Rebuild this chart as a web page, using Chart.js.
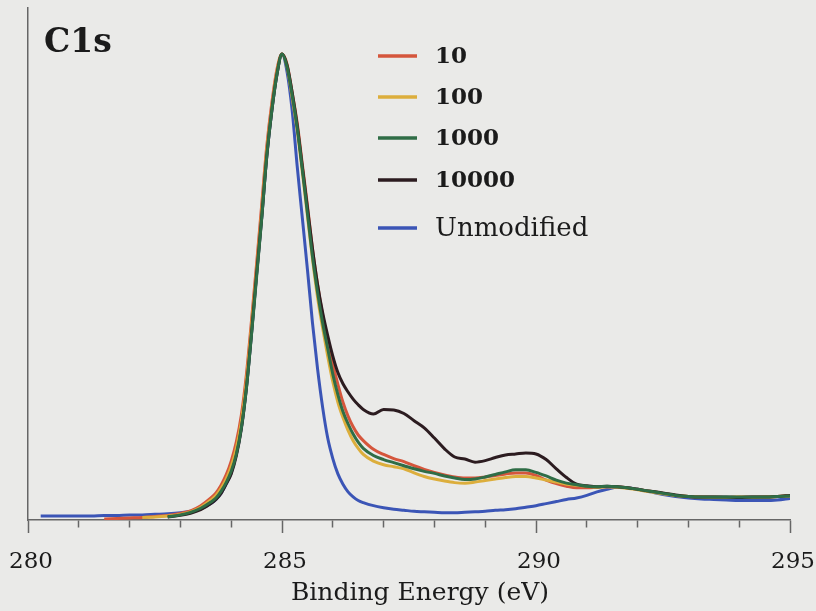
<!DOCTYPE html>
<html>
<head>
<meta charset="utf-8">
<script src="https://cdn.jsdelivr.net/npm/chart.js@4.4.1/dist/chart.umd.min.js"></script>
<style>
html,body{margin:0;padding:0;background:#eaeae8;}
canvas{display:block;}
</style>
</head>
<body>
<canvas id="c" width="816" height="611"></canvas>
<script>
// ---- data ----
const energy = [
  280.25,280.5,280.75,281,281.25,281.5,281.75,282,282.25,282.5,282.75,283,
  283.2,283.4,283.6,
  283.7,283.8,283.9,284.0,284.1,284.2,284.3,284.4,284.5,284.6,
  284.7,284.8,284.9,285.0,285.1,285.2,285.3,285.4,285.5,285.6,
  285.7,285.8,285.9,286.0,286.1,286.2,286.3,286.4,286.5,286.6,
  286.8,287.0,287.2,287.4,287.6,287.8,288.0,288.2,288.4,288.6,
  288.8,289.0,289.2,289.4,289.6,289.8,290.0,290.2,290.4,290.6,
  290.8,291.0,291.2,291.4,291.6,291.8,292.0,
  292.25,292.5,292.75,293.0,293.25,293.5,293.75,294.0,294.25,294.5,294.75,295.0
];
const seriesLabels = ['10','100','1000','10000','Unmodified'];
const int10 = [
  null,null,null,null,null,0.2,0.3,0.4,0.5,0.7,0.9,1.3,
  1.8,2.8,4.3,
  5.3,6.8,8.8,11.5,15.2,20.5,28.5,39,50,61.5,
  73,81.5,88,91,89,83.5,77.5,69.5,61.5,53,
  46,40,35,30.5,26.5,23,20.3,18.2,16.6,15.5,
  13.8,12.8,12.0,11.4,10.6,9.9,9.3,8.8,8.4,8.2,
  8.2,8.4,8.7,9.0,9.2,9.2,8.7,7.8,7.1,6.6,
  6.3,6.3,6.4,6.5,6.5,6.3,6.0,
  5.6,5.2,4.8,4.6,4.5,4.5,4.4,4.5,4.5,4.5,4.6,4.8
];
const int100 = [
  null,null,null,null,null,null,null,null,0.5,0.6,0.8,1.1,
  1.6,2.5,3.9,
  4.8,6.2,8.0,10.5,14.0,19.2,27.2,37.8,48.8,60,
  72,80.5,87.5,91,88.5,82.5,76,68,59.5,51,
  43.5,37.5,32,27,23,20,17.5,15.5,14.0,12.8,
  11.5,10.8,10.4,10.0,9.2,8.5,8.0,7.6,7.3,7.2,
  7.4,7.7,8.0,8.3,8.5,8.5,8.2,7.8,7.4,7.0,
  6.8,6.6,6.4,6.5,6.4,6.2,5.9,
  5.5,5.1,4.8,4.6,4.5,4.4,4.4,4.5,4.4,4.5,4.6,4.7
];
const int1000 = [
  null,null,null,null,null,null,null,null,null,null,0.6,1.0,
  1.5,2.3,3.5,
  4.3,5.6,7.3,9.5,12.8,18.0,25.8,36.2,47.5,58.8,
  71,80,87,91,88.5,83,76.5,68.5,60,51.5,
  44.5,38.5,33.5,28.5,24.5,21.2,18.8,16.8,15.2,14.0,
  12.6,11.8,11.2,10.6,10.0,9.5,9.1,8.6,8.2,7.9,
  8.0,8.4,8.9,9.4,9.8,9.8,9.3,8.6,7.8,7.2,
  6.9,6.6,6.5,6.6,6.5,6.3,6.0,
  5.6,5.2,4.8,4.6,4.5,4.5,4.5,4.5,4.5,4.5,4.6,4.7
];
const int10000 = [
  null,null,null,null,null,null,null,null,null,null,0.6,0.9,
  1.3,2.0,3.2,
  4.0,5.2,7.0,9.0,12.5,17.8,25.8,36.5,48,59,
  71,80,87,91,88.8,83.5,77,69,61,53,
  46,40.5,36,32,28.8,26.6,25,23.6,22.5,21.6,
  20.7,21.6,21.5,20.8,19.4,18.0,16.0,13.9,12.3,11.9,
  11.3,11.6,12.2,12.7,12.9,13.1,12.9,11.8,10.0,8.3,
  7.0,6.7,6.5,6.6,6.5,6.3,6.0,
  5.6,5.3,4.9,4.6,4.5,4.5,4.5,4.4,4.5,4.5,4.6,4.8
];
const intUnmod = [
  0.8,0.8,0.8,0.8,0.8,0.9,0.9,1.0,1.0,1.1,1.2,1.4,
  1.7,2.2,3.2,
  4.0,5.2,7.0,9.2,12.8,18,26,36.5,48,59,
  71,80,87,91,87.5,80,69,59,49,38.5,
  29.5,22,16,12,9.0,7.0,5.5,4.5,3.8,3.4,
  2.8,2.4,2.1,1.9,1.7,1.6,1.5,1.4,1.4,1.5,
  1.6,1.7,1.9,2.0,2.2,2.5,2.8,3.2,3.6,4.0,
  4.3,4.8,5.5,6.0,6.4,6.3,6.0,
  5.5,5.0,4.6,4.3,4.1,4.0,3.9,3.8,3.8,3.8,3.9,4.2
];
const xTickLabels = [280, 285, 290, 295];
const panelLabel = 'C1s';
const xTitle = 'Binding Energy (eV)';

// ---- styles ----
const colors = ['#d5563c', '#dcae3c', '#2f6d46', '#2c1c20', '#3b55b6'];
const drawOrder = [3, 2, 0, 1, 4];
const legendBold = [true, true, true, true, false];
const serif = '"DejaVu Serif", "Liberation Serif", serif';

function toPoints(vals) {
  return energy.map((e, i) => ({x: e, y: vals[i]})).filter(p => p.y !== null);
}
const allSeries = [int10, int100, int1000, int10000, intUnmod];

const datasets = allSeries.map((vals, i) => ({
  label: seriesLabels[i],
  data: toPoints(vals),
  borderColor: colors[i],
  backgroundColor: colors[i],
  borderWidth: 3,
  pointRadius: 0,
  cubicInterpolationMode: 'monotone',
  order: drawOrder[i],
  legendBold: legendBold[i]
}));

const overlayPlugin = {
  id: 'overlay',
  afterDraw(chart) {
    const ctx = chart.ctx;
    ctx.save();
    // panel label
    ctx.fillStyle = '#1b1b1b';
    ctx.font = 'bold 33px ' + serif;
    ctx.textBaseline = 'alphabetic';
    ctx.textAlign = 'left';
    ctx.fillText(panelLabel, 44, 52);
    // axis title
    ctx.font = '25px ' + serif;
    ctx.textAlign = 'center';
    ctx.fillText(xTitle, 420, 600);
    // legend
    ctx.textAlign = 'left';
    const rows = [56, 97, 138, 180, 228];
    chart.data.datasets.forEach((ds, i) => {
      const y = rows[i];
      ctx.strokeStyle = ds.borderColor;
      ctx.lineWidth = 3.5;
      ctx.beginPath();
      ctx.moveTo(378, y);
      ctx.lineTo(417, y);
      ctx.stroke();
      ctx.fillStyle = '#1b1b1b';
      ctx.font = (ds.legendBold ? 'bold 23px ' : '26px ') + serif;
      ctx.textBaseline = 'middle';
      ctx.fillText(ds.label, 435, y + 1);
    });
    ctx.restore();
  }
};

new Chart(document.getElementById('c'), {
  type: 'line',
  data: { datasets },
  options: {
    responsive: false,
    animation: false,
    layout: { padding: { left: 28, right: 26, top: 8, bottom: 0 } },
    plugins: { legend: { display: false }, tooltip: { enabled: false } },
    scales: {
      x: {
        type: 'linear',
        min: 280, max: 295,
        afterFit: s => { s.paddingLeft = 0; s.paddingRight = 0; s.height = 91; },
        ticks: {
          stepSize: 1, autoSkip: false, maxRotation: 0, padding: 15, labelOffset: 3,
          color: '#1b1b1b',
          font: { family: serif, size: 23 },
          callback: v => xTickLabels.includes(v) ? String(v) : ''
        },
        grid: {
          drawOnChartArea: false, drawTicks: true, tickLength: 13,
          tickColor: '#666', tickWidth: 1.5,
          tickBorderDash: c => (c.tick && xTickLabels.includes(c.tick.value)) ? [] : [7, 40]
        },
        border: { display: true, color: '#666', width: 1.5 }
      },
      y: {
        min: 0, max: 100,
        afterFit: s => { s.width = 0; s.paddingTop = 0; s.paddingBottom = 0; },
        ticks: { display: false },
        grid: { display: false, drawTicks: false },
        border: { display: true, color: '#666', width: 1.5 }
      }
    }
  },
  plugins: [overlayPlugin]
});
</script>
</body>
</html>
